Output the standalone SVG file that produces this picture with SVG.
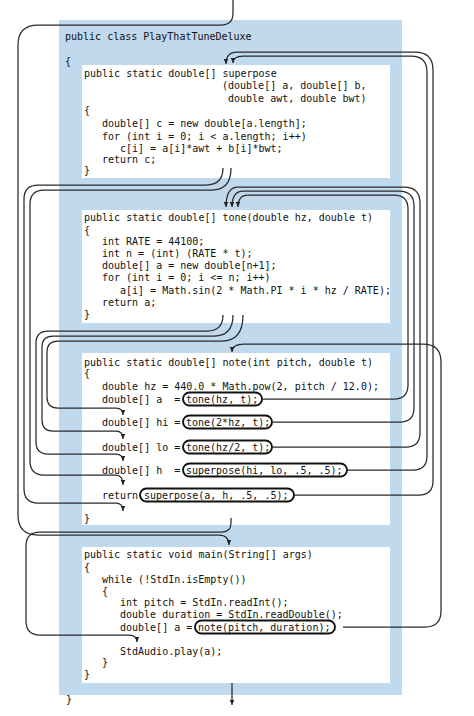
<svg xmlns="http://www.w3.org/2000/svg" width="474" height="716" viewBox="0 0 474 716">
<style>
.code{font-family:"DejaVu Sans Mono","Liberation Mono",monospace;font-size:10px;fill:#111;white-space:pre}
.outer{fill:#c1d9ec}
.box{fill:#ffffff}
.oval{fill:none;stroke:#111;stroke-width:1.9}
.wire{fill:none;stroke:#2a2a2a;stroke-width:1.25;marker-end:url(#arr)}
</style>
<defs>
<marker id="arr" markerUnits="userSpaceOnUse" markerWidth="6" markerHeight="5" refX="5" refY="2.25" orient="auto">
<path d="M0,0 L5,2.25 L0,4.5 z" fill="#222"/>
</marker>
</defs>
<rect width="474" height="716" fill="#ffffff"/>
<g id="class-PlayThatTuneDeluxe">
<rect class="outer" x="59" y="20" width="343" height="675"/>
<text class="code" x="65" y="40">public class PlayThatTuneDeluxe</text>
<text class="code" x="65" y="65">{</text>
<text class="code" x="66" y="703">}</text>
</g>
<g id="superpose">
<rect class="box" x="82" y="65" width="308" height="113"/>
<text class="code" x="84" y="77">public static double[] superpose</text>
<text class="code" x="222" y="89">(double[] a, double[] b,</text>
<text class="code" x="228" y="101.5">double awt, double bwt)</text>
<text class="code" x="84" y="114">{</text>
<text class="code" x="102" y="127">double[] c = new double[a.length];</text>
<text class="code" x="102" y="139.5">for (int i = 0; i &lt; a.length; i++)</text>
<text class="code" x="120" y="151.5">c[i] = a[i]*awt + b[i]*bwt;</text>
<text class="code" x="102" y="163">return c;</text>
<text class="code" x="84" y="173.5">}</text>
</g>
<g id="tone">
<rect class="box" x="82" y="210" width="308" height="113"/>
<text class="code" x="84" y="221">public static double[] tone(double hz, double t)</text>
<text class="code" x="84" y="233.5">{</text>
<text class="code" x="102" y="245">int RATE = 44100;</text>
<text class="code" x="102" y="257">int n = (int) (RATE * t);</text>
<text class="code" x="102" y="269">double[] a = new double[n+1];</text>
<text class="code" x="102" y="281">for (int i = 0; i &lt;= n; i++)</text>
<text class="code" x="120" y="293.5">a[i] = Math.sin(2 * Math.PI * i * hz / RATE);</text>
<text class="code" x="102" y="305.5">return a;</text>
<text class="code" x="84" y="317.5">}</text>
</g>
<g id="note">
<rect class="box" x="82" y="353" width="308" height="172"/>
<text class="code" x="84" y="366">public static double[] note(int pitch, double t)</text>
<text class="code" x="84" y="377">{</text>
<text class="code" x="102" y="390">double hz = 440.0 * Math.pow(2, pitch / 12.0);</text>
<text class="code" x="102" y="402.5">double[] a  =</text>
<rect class="oval" x="183" y="392.5" width="79" height="13" rx="6.5"/>
<text class="code" x="186" y="402.5">tone(hz, t);</text>
<text class="code" x="102" y="425.5">double[] hi =</text>
<rect class="oval" x="183" y="415.5" width="89" height="13" rx="6.5"/>
<text class="code" x="186" y="425.5">tone(2*hz, t);</text>
<text class="code" x="102" y="450.5">double[] lo =</text>
<rect class="oval" x="183" y="440.5" width="89" height="13" rx="6.5"/>
<text class="code" x="186" y="450.5">tone(hz/2, t);</text>
<text class="code" x="102" y="473.5">double[] h  =</text>
<rect class="oval" x="183" y="463.5" width="164" height="13" rx="6.5"/>
<text class="code" x="186" y="473.5">superpose(hi, lo, .5, .5);</text>
<text class="code" x="102" y="498.5">return</text>
<rect class="oval" x="140" y="488.5" width="154" height="13" rx="6.5"/>
<text class="code" x="144" y="498.5">superpose(a, h, .5, .5);</text>
<text class="code" x="84" y="522">}</text>
</g>
<g id="main">
<rect class="box" x="82" y="547" width="308" height="136"/>
<text class="code" x="84" y="558">public static void main(String[] args)</text>
<text class="code" x="84" y="571">{</text>
<text class="code" x="102" y="583">while (!StdIn.isEmpty())</text>
<text class="code" x="102" y="595">{</text>
<text class="code" x="120" y="606">int pitch = StdIn.readInt();</text>
<text class="code" x="120" y="618">double duration = StdIn.readDouble();</text>
<text class="code" x="120" y="630.5">double[] a =</text>
<rect class="oval" x="195" y="620.5" width="140" height="13" rx="6.5"/>
<text class="code" x="198" y="630.5">note(pitch, duration);</text>
<text class="code" x="120" y="655">StdAudio.play(a);</text>
<text class="code" x="102" y="666">}</text>
<text class="code" x="84" y="678">}</text>
</g>
<g id="connectors">
<path class="wire" d="M233 0 V13 Q233 25 221 25 H38 Q18 25 18 45 V515 Q18 535 38 535 H219 Q229 535 229 545"/>
<path class="wire" d="M343 627 H425 Q441 627 441 611 V362 Q441 344 423 344 H244 Q232 344 232 352"/>
<path class="wire" d="M231 518 V523 Q231 532 222 532 H40 Q26 532 26 546 V621 Q26 635 40 635 H129 Q137 635 137 642"/>
<path class="wire" d="M232 683 V705"/>
<path class="wire" d="M348 470 H413 Q427 470 427 456 V72 Q427 56 411 56 H243 Q233 56 233 63"/>
<path class="wire" d="M294 495 H419 Q433 495 433 481 V70 Q433 52 415 52 H237 Q226 52 226 64"/>
<path class="wire" d="M273 447 H406 Q420 447 420 433 V203 Q420 187 404 187 H238 Q226 187 226 207"/>
<path class="wire" d="M273 422 H400 Q414 422 414 408 V206 Q414 191 399 191 H243 Q232 191 232 207"/>
<path class="wire" d="M262 399 H394 Q408 399 408 385 V209 Q408 195 394 195 H248 Q238 195 238 207"/>
<path class="wire" d="M223 168 Q223 185 206 185 H38 Q24 185 24 199 V489 Q24 503 38 503 H116 Q123 503 123 511"/>
<path class="wire" d="M231 168 Q231 190 212 190 H44 Q30 190 30 204 V461 Q30 475 44 475 H116 Q123 475 123 485"/>
<path class="wire" d="M223 315 Q223 331 207 331 H48 Q36 331 36 343 V442 Q36 454 48 454 H116 Q123 454 123 461"/>
<path class="wire" d="M233 315 Q233 336 214 336 H53 Q42 336 42 347 V420 Q42 431 53 431 H116 Q123 431 123 439"/>
<path class="wire" d="M243 315 Q243 341 222 341 H58 Q47 341 47 352 V397 Q47 408 58 408 H116 Q123 408 123 415"/>
</g>
</svg>
